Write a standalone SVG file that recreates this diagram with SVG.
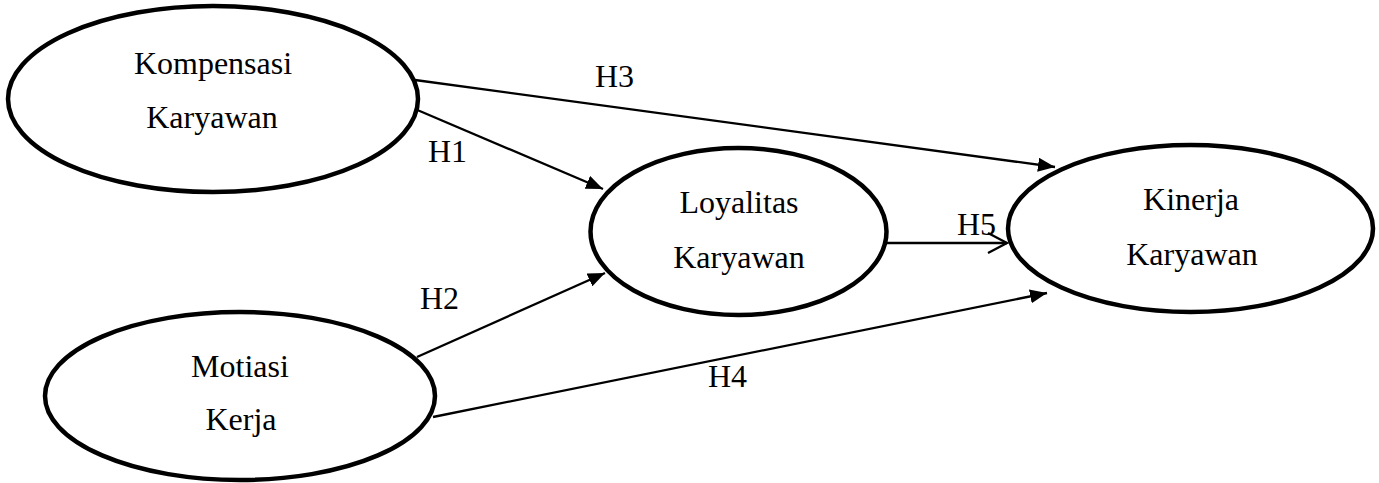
<svg xmlns="http://www.w3.org/2000/svg" width="1379" height="483" viewBox="0 0 1379 483">
<style>
.node ellipse{fill:#fff;stroke:#000;stroke-width:4.5}
.t{text-anchor:middle}
.edge{stroke:#000;stroke-width:2.3;fill:none}
</style>
<defs>
<marker id="ah" markerUnits="userSpaceOnUse" markerWidth="18" markerHeight="14" refX="17" refY="7" orient="auto">
<path d="M0,0 L17,7 L0,14 Z" fill="#000"/>
</marker>
<marker id="oh" markerUnits="userSpaceOnUse" markerWidth="22" markerHeight="24" refX="20" refY="12" orient="auto">
<path d="M1,2 L20,12 L1,22" fill="none" stroke="#000" stroke-width="2.3"/>
</marker>
</defs>
<g font-family="Liberation Serif, Times New Roman, serif" font-size="32" fill="#000">
<g id="connectors">
<line class="edge" x1="415" y1="80" x2="1055" y2="167" marker-end="url(#ah)"/>
<line class="edge" x1="415" y1="109" x2="603" y2="189" marker-end="url(#ah)"/>
<line class="edge" x1="417" y1="357" x2="605" y2="273" marker-end="url(#ah)"/>
<line class="edge" x1="433" y1="417" x2="1047" y2="293" marker-end="url(#ah)"/>
<line class="edge" x1="886" y1="243" x2="1007" y2="243" marker-end="url(#oh)"/>
<text x="595" y="87">H3</text>
<text x="428" y="162">H1</text>
<text x="420" y="309">H2</text>
<text x="708" y="387">H4</text>
<text x="957" y="235">H5</text>
</g>
<g id="kompensasi" class="node">
<ellipse cx="213" cy="99" rx="205" ry="93"/>
<text class="t" x="213" y="74">Kompensasi</text>
<text class="t" x="212" y="128">Karyawan</text>
</g>
<g id="motiasi" class="node">
<ellipse cx="240" cy="396" rx="195" ry="84"/>
<text class="t" x="240" y="377">Motiasi</text>
<text class="t" x="241" y="430">Kerja</text>
</g>
<g id="loyalitas" class="node">
<ellipse cx="738.5" cy="231.5" rx="148" ry="83.5"/>
<text class="t" x="739" y="213">Loyalitas</text>
<text class="t" x="739" y="268">Karyawan</text>
</g>
<g id="kinerja" class="node">
<ellipse cx="1190.5" cy="228.5" rx="182.5" ry="83.5"/>
<text class="t" x="1191" y="210">Kinerja</text>
<text class="t" x="1192" y="265">Karyawan</text>
</g>
</g>
</svg>
